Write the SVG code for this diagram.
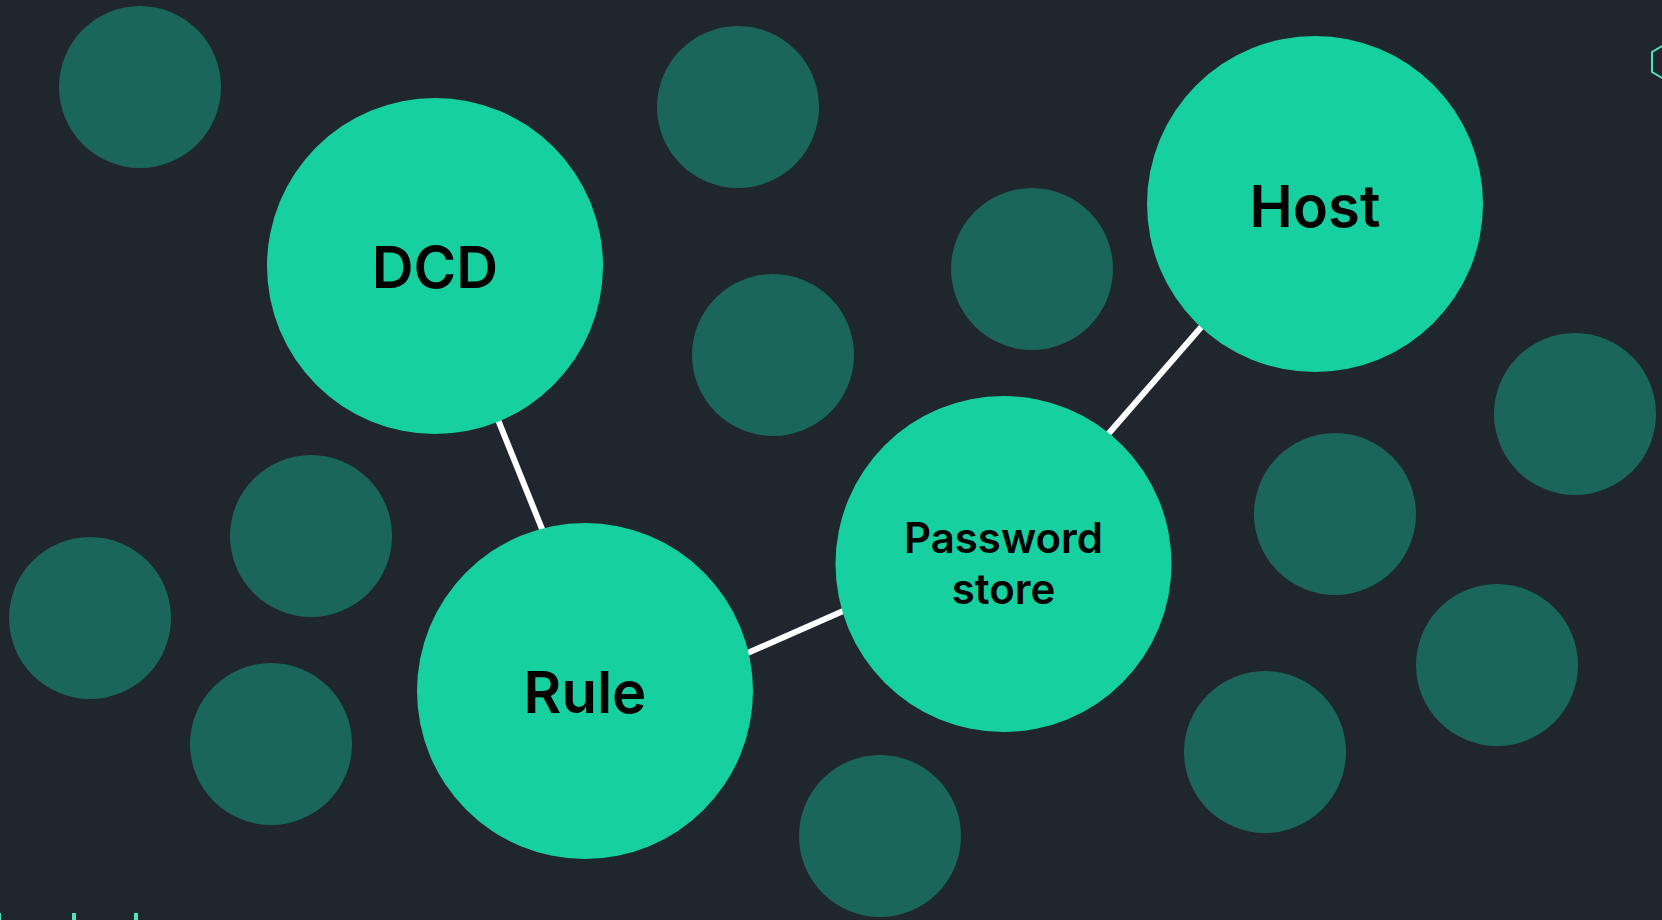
<svg xmlns="http://www.w3.org/2000/svg" width="1662" height="920" viewBox="0 0 1662 920">
<style>
.bg{fill:#1f262e}
.minor{fill:#1b665a}
.major{fill:#16d19f}
.edge{stroke:#ffffff;stroke-width:6;fill:none}
.lbl{font-family:Inter,"Liberation Sans",sans-serif;font-weight:600;fill:#000000;text-anchor:middle}
.big{font-size:58px}
.small{font-size:42px}
.accent{fill:#55e0b6}
</style>
<rect class="bg" x="0" y="0" width="1662" height="920"/>
<g id="connectors">
<line class="edge" x1="436" y1="266" x2="607" y2="690"/>
<line class="edge" x1="700" y1="674" x2="900" y2="586"/>
<line class="edge" x1="1050" y1="501" x2="1250" y2="271"/>
</g>
<g id="background-nodes">
<circle class="minor" cx="140" cy="87" r="81"/>
<circle class="minor" cx="738" cy="107" r="81"/>
<circle class="minor" cx="1032" cy="269" r="81"/>
<circle class="minor" cx="773" cy="355" r="81"/>
<circle class="minor" cx="311" cy="536" r="81"/>
<circle class="minor" cx="90" cy="618" r="81"/>
<circle class="minor" cx="271" cy="744" r="81"/>
<circle class="minor" cx="880" cy="836" r="81"/>
<circle class="minor" cx="1335" cy="514" r="81"/>
<circle class="minor" cx="1575" cy="414" r="81"/>
<circle class="minor" cx="1497" cy="665" r="81"/>
<circle class="minor" cx="1265" cy="752" r="81"/>
</g>
<g id="node-dcd">
<circle class="major" cx="435" cy="266" r="168"/>
<text class="lbl big" x="435" y="288">DCD</text>
</g>
<g id="node-host">
<circle class="major" cx="1315" cy="204" r="168"/>
<text class="lbl big" x="1315" y="226.5">Host</text>
</g>
<g id="node-password-store">
<circle class="major" cx="1003.5" cy="564" r="168"/>
<text class="lbl small" x="1003.5" y="553">Password</text>
<text class="lbl small" x="1003.5" y="604">store</text>
</g>
<g id="node-rule">
<circle class="major" cx="585" cy="691" r="168"/>
<text class="lbl big" x="585" y="712.5">Rule</text>
</g>
<g id="edge-decor">
<polygon points="1669,42 1686,52 1686,72 1669,82 1652,72 1652,52" fill="none" stroke="#55e0b6" stroke-width="2"/>
<rect class="accent" x="0" y="913" width="1" height="7"/>
<rect class="accent" x="72" y="913" width="4" height="7"/>
<rect class="accent" x="134" y="913" width="4" height="7"/>
</g>
</svg>
